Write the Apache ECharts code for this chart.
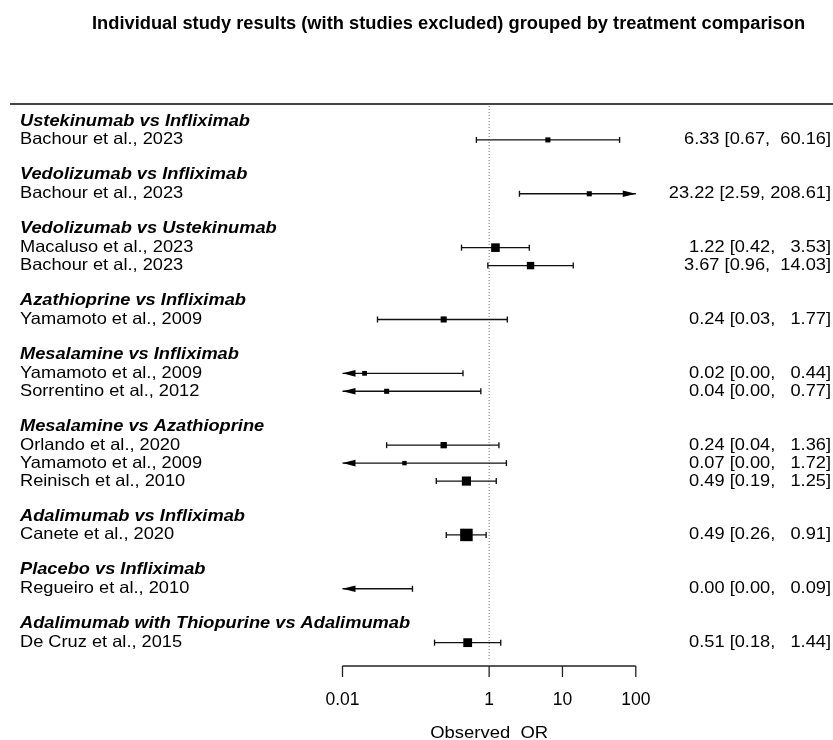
<!DOCTYPE html>
<html>
<head>
<meta charset="utf-8">
<script src="https://cdn.jsdelivr.net/npm/echarts/dist/echarts.min.js"></script>
<style>
html,body{margin:0;padding:0;background:#fff;}
#main{width:833px;height:740px;}
</style>
</head>
<body>
<div id="main"></div>
<script>
// ---------------- DATA ----------------
const titleText = 'Individual study results (with studies excluded) grouped by treatment comparison';

const groups = [
  'Ustekinumab vs Infliximab',
  'Vedolizumab vs Infliximab',
  'Vedolizumab vs Ustekinumab',
  'Azathioprine vs Infliximab',
  'Mesalamine vs Infliximab',
  'Mesalamine vs Azathioprine',
  'Adalimumab vs Infliximab',
  'Placebo vs Infliximab',
  'Adalimumab with Thiopurine vs Adalimumab'
];
const groupSizes = [1, 1, 2, 1, 2, 3, 1, 1, 1];

const studies = [
  'Bachour et al., 2023',
  'Bachour et al., 2023',
  'Macaluso et al., 2023',
  'Bachour et al., 2023',
  'Yamamoto et al., 2009',
  'Yamamoto et al., 2009',
  'Sorrentino et al., 2012',
  'Orlando et al., 2020',
  'Yamamoto et al., 2009',
  'Reinisch et al., 2010',
  'Canete et al., 2020',
  'Regueiro et al., 2010',
  'De Cruz et al., 2015'
];
const oddsRatio = [6.33, 23.22, 1.22, 3.67, 0.24, 0.02, 0.04, 0.24, 0.07, 0.49, 0.49, 0.002, 0.51];
const ciLower   = [0.67, 2.59, 0.42, 0.96, 0.03, 0.0007, 0.002, 0.04, 0.003, 0.19, 0.26, 0.0001, 0.18];
const ciUpper   = [60.16, 208.61, 3.53, 14.03, 1.77, 0.44, 0.77, 1.36, 1.72, 1.25, 0.91, 0.09, 1.44];
const weights   = [0.16, 0.16, 0.46, 0.34, 0.23, 0.14, 0.16, 0.25, 0.12, 0.52, 0.97, 0.10, 0.48];

const tickValues = [0.01, 1, 10, 100];
const tickLabels = ['0.01', '1', '10', '100'];
const xAxisTitle = 'Observed  OR';
const refValue = 1;

// ---------------- LAYOUT ----------------
const FONT = '"Liberation Sans", Arial, Helvetica, sans-serif';
const LABEL_SIZE = 16.5, LABEL_SCALE = 1.105;
const xLimLog = [-6.535, 4.69];
const rowTop = -2, rowBottom = 29.3, refBottom = 29;

// row positions derived from group structure
const headerRows = [];
const studyRows = [];
(function () {
  let r = -1;
  groupSizes.forEach(function (n) {
    headerRows.push(r);
    for (let k = 1; k <= n; k++) studyRows.push(r + k);
    r += n + 2;
  });
})();

const fmt = v => v.toFixed(2);
const hiW = Math.max.apply(null, ciUpper.map(v => fmt(v).length));
const loW = Math.max.apply(null, ciLower.map(v => fmt(v).length));
const estW = Math.max.apply(null, oddsRatio.map(v => fmt(v).length));
const rightText = oddsRatio.map((v, i) =>
  fmt(v).padStart(estW) + ' [' + fmt(ciLower[i]).padStart(loW) + ', ' + fmt(ciUpper[i]).padStart(hiW) + ']');

const aMin = tickValues[0], aMax = tickValues[tickValues.length - 1];
const maxW = Math.max.apply(null, weights);

const chart = echarts.init(document.getElementById('main'), null, {renderer: 'canvas'});

function renderStudy(params, api) {
  const i = api.value(0);
  const row = studyRows[i];
  const est = oddsRatio[i], lo = ciLower[i], hi = ciUpper[i];
  const y = api.coord([1, row])[1];
  const xl = api.coord([Math.max(lo, aMin), row])[0];
  const xr = api.coord([Math.min(hi, aMax), row])[0];
  const stroke = {stroke: '#111', lineWidth: 1.35};
  const ch = [];
  ch.push({type: 'line', shape: {x1: xl, y1: y, x2: xr, y2: y}, style: stroke});
  const aL = 13, aH = 3.3, cH = 3;
  if (lo < aMin) {
    ch.push({type: 'polygon', shape: {points: [[xl, y], [xl + aL, y - aH], [xl + aL, y + aH]]}, style: {fill: '#000'}});
  } else {
    ch.push({type: 'line', shape: {x1: xl, y1: y - cH, x2: xl, y2: y + cH}, style: stroke});
  }
  if (hi > aMax) {
    ch.push({type: 'polygon', shape: {points: [[xr, y], [xr - aL, y - aH], [xr - aL, y + aH]]}, style: {fill: '#000'}});
  } else {
    ch.push({type: 'line', shape: {x1: xr, y1: y - cH, x2: xr, y2: y + cH}, style: stroke});
  }
  if (est >= aMin && est <= aMax) {
    const xe = api.coord([est, row])[0];
    const s = 12.5 * Math.sqrt(weights[i] / maxW);
    ch.push({type: 'rect', shape: {x: xe - s / 2, y: y - s / 2, width: s, height: s}, style: {fill: '#000'}});
  }
  ch.push({type: 'text', x: 20, y: y, scaleX: LABEL_SCALE,
    style: {text: studies[i], font: LABEL_SIZE + 'px ' + FONT, fill: '#000', align: 'left', verticalAlign: 'middle'}});
  ch.push({type: 'text', x: 831, y: y, scaleX: LABEL_SCALE,
    style: {text: rightText[i], font: LABEL_SIZE + 'px ' + FONT, fill: '#000', align: 'right', verticalAlign: 'middle'}});
  return {type: 'group', children: ch};
}

function renderHeader(params, api) {
  const g = api.value(0);
  const y = api.coord([1, headerRows[g]])[1];
  return {type: 'text', x: 20, y: y - 1, scaleX: LABEL_SCALE,
    style: {text: groups[g], font: 'italic bold ' + LABEL_SIZE + 'px ' + FONT, fill: '#000', align: 'left', verticalAlign: 'middle'}};
}

function renderFrame(params, api) {
  const cs = params.coordSys;
  const xr = api.coord([refValue, rowTop])[0];
  const yt = api.coord([refValue, rowTop])[1];
  const yb = api.coord([refValue, refBottom])[1];
  return {type: 'group', children: [
    {type: 'line', shape: {x1: xr, y1: yt + 2, x2: xr, y2: yb}, style: {stroke: '#777', lineWidth: 1, lineDash: [1, 2]}},
    {type: 'line', shape: {x1: cs.x, y1: yt, x2: cs.x + cs.width, y2: yt}, style: {stroke: '#444', lineWidth: 2}}
  ]};
}

function renderAxis(params, api) {
  const i = api.value(1);
  const v = tickValues[i];
  const y = api.coord([v, rowBottom])[1];
  const x = api.coord([v, rowBottom])[0];
  const st = {stroke: '#222', lineWidth: 1.3};
  const ch = [
    {type: 'line', shape: {x1: x, y1: y, x2: x, y2: y + 11}, style: st},
    {type: 'text', x: x, y: y + 34.5, style: {text: tickLabels[i], font: '17.5px ' + FONT, fill: '#000', align: 'center', verticalAlign: 'middle'}}
  ];
  if (i === 0) {
    const x0 = api.coord([aMin, rowBottom])[0], x1 = api.coord([aMax, rowBottom])[0];
    ch.push({type: 'line', shape: {x1: x0, y1: y, x2: x1, y2: y}, style: st});
    const xc = api.coord([Math.sqrt(aMin * aMax), rowBottom])[0];
    ch.push({type: 'text', x: xc, y: y + 67.5, scaleX: 1.085,
      style: {text: xAxisTitle, font: '17px ' + FONT, fill: '#000', align: 'center', verticalAlign: 'middle'}});
  }
  return {type: 'group', children: ch};
}

const option = {
  animation: false,
  backgroundColor: '#fff',
  title: {
    text: titleText, left: 92, top: 14.5, padding: 0,
    textStyle: {fontFamily: FONT, fontSize: 18.3, fontWeight: 'bold', color: '#000'}
  },
  grid: {left: 10, right: 0, top: 104, bottom: 74, containLabel: false},
  xAxis: {type: 'log', logBase: 10, min: Math.pow(10, xLimLog[0]), max: Math.pow(10, xLimLog[1]), show: false},
  yAxis: {type: 'value', inverse: true, min: rowTop, max: rowBottom, show: false},
  series: [
    {type: 'custom', name: 'frame', renderItem: renderFrame, data: [[refValue, 0]], silent: true, z: 1},
    {type: 'custom', name: 'headers', renderItem: renderHeader, data: groups.map((g, i) => [i, headerRows[i]]), silent: true, z: 2},
    {type: 'custom', name: 'studies', renderItem: renderStudy, data: studies.map((s, i) => [i, studyRows[i]]), silent: true, z: 3},
    {type: 'custom', name: 'axis', renderItem: renderAxis, data: tickValues.map((v, i) => [v, i]), silent: true, z: 2}
  ]
};
chart.setOption(option);
</script>
</body>
</html>
